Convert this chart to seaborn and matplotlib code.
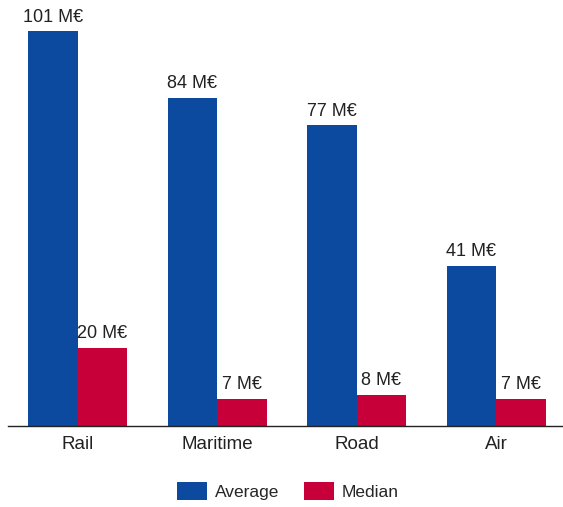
import matplotlib
matplotlib.use("Agg")
import matplotlib.pyplot as plt
import seaborn as sns
import pandas as pd

categories = ["Rail", "Maritime", "Road", "Air"]
average = [101, 84, 77, 41]
median = [20, 7, 8, 7]
series_names = ["Average", "Median"]
colors = ["#0b4a9e", "#c8003a"]

df = pd.DataFrame({
    "mode": categories * 2,
    "value": average + median,
    "series": [series_names[0]] * len(categories) + [series_names[1]] * len(categories),
})

sns.set_style("white")
plt.rcParams["font.family"] = ["Liberation Sans", "DejaVu Sans"]

fig = plt.figure(figsize=(5.63, 5.07), dpi=100)
ax = fig.add_axes([8 / 563, 81 / 507, 1 - 8 / 563, 1 - 81 / 507])
sns.barplot(data=df, x="mode", y="value", hue="series", palette=colors,
            width=0.71, saturation=1, ax=ax, legend=True, linewidth=0)

for cont in ax.containers:
    labels = [f"{int(round(v))} M€" for v in cont.datavalues]
    ax.bar_label(cont, labels=labels, padding=4, fontsize=13, color="#222222")

ax.set_xlim(-0.5, 3.48)
ax.set_ylim(0, 109)
ax.set_xlabel("")
ax.set_ylabel("")
ax.set_yticks([])
for s in ["top", "right", "left"]:
    ax.spines[s].set_visible(False)
ax.spines["bottom"].set_color("#222222")
ax.spines["bottom"].set_linewidth(1.0)
ax.tick_params(axis="x", length=0, labelsize=13.5, pad=7, colors="#222222")

h, l = ax.get_legend_handles_labels()
ax.legend_.remove()
fig.legend(h, l, loc="center", bbox_to_anchor=(288 / 563, 1 - 491 / 507), ncol=2,
           frameon=False, fontsize=12.5, handlelength=1.75, handleheight=1.2,
           columnspacing=1.4, handletextpad=0.45)

fig.savefig("out.png", dpi=100)
